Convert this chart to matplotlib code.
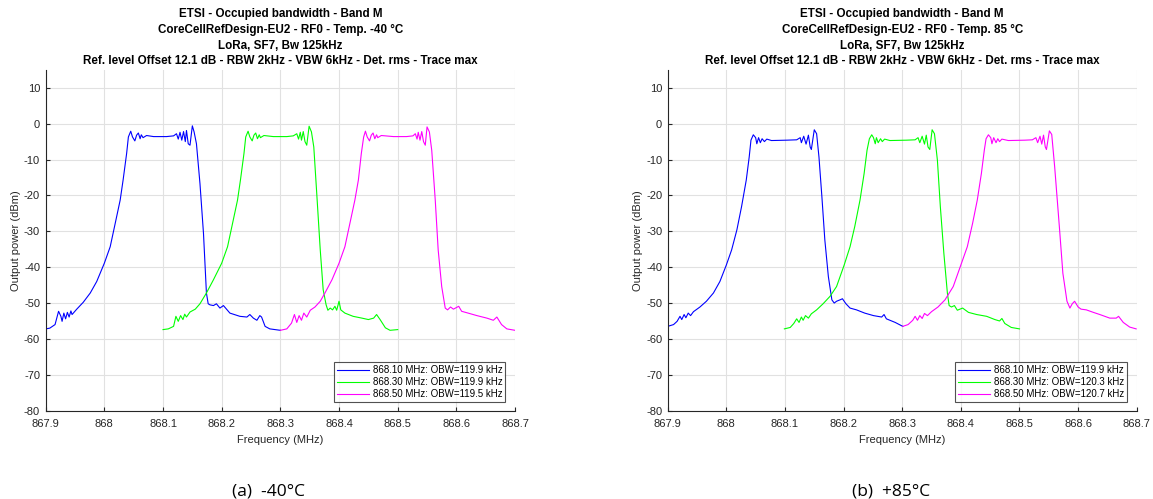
import matplotlib
matplotlib.use("Agg")
from matplotlib import pyplot as plt

plt.rcParams['font.family'] = ['Liberation Sans', 'DejaVu Sans']
plt.rcParams['axes.unicode_minus'] = False

# ---- -40 degC traces (MHz, dBm) ----
f_blue_cold = [867.900, 867.907, 867.916, 867.922, 867.926, 867.928, 867.931, 867.934, 867.937, 867.940,
               867.943, 867.945, 867.953, 867.964, 867.976, 867.987, 868.000, 868.010, 868.018, 868.027,
               868.032, 868.038, 868.041, 868.045, 868.048, 868.052, 868.055, 868.058, 868.061, 868.063,
               868.066, 868.072, 868.084, 868.106, 868.118, 868.123, 868.126, 868.129, 868.132, 868.135,
               868.138, 868.140, 868.143, 868.146, 868.150, 868.153, 868.157, 868.163, 868.169, 868.174,
               868.177, 868.180, 868.186, 868.191, 868.197, 868.203, 868.214, 868.231, 868.243, 868.248,
               868.254, 868.260, 868.265, 868.268, 868.274, 868.282, 868.300]
p_blue_cold = [-57.2, -57.0, -56.0, -52.3, -53.7, -55.1, -52.8, -54.4, -52.6, -53.9,
               -52.2, -53.2, -51.7, -49.8, -47.2, -44.0, -38.9, -34.3, -28.2, -21.3,
               -15.7, -8.3, -3.7, -2.1, -3.7, -4.8, -3.2, -2.6, -4.2, -3.1,
               -3.9, -3.3, -3.6, -3.6, -3.4, -2.8, -4.3, -2.4, -4.6, -2.2,
               -5.0, -1.9, -5.6, -6.0, -0.6, -2.3, -5.6, -16.7, -30.6, -47.2,
               -50.2, -50.5, -50.7, -50.2, -51.4, -50.7, -52.8, -53.7, -53.9, -53.2,
               -54.2, -54.8, -53.5, -53.9, -56.5, -57.2, -57.6]

f_green_cold = [868.100, 868.109, 868.118, 868.122, 868.126, 868.130, 868.134, 868.137, 868.140, 868.146,
                868.155, 868.163, 868.174, 868.186, 868.200, 868.210, 868.218, 868.227, 868.232, 868.238,
                868.241, 868.245, 868.248, 868.252, 868.255, 868.258, 868.261, 868.264, 868.266, 868.272,
                868.288, 868.311, 868.322, 868.328, 868.331, 868.334, 868.336, 868.339, 868.342, 868.345,
                868.349, 868.353, 868.357, 868.362, 868.368, 868.373, 868.378, 868.381, 868.385, 868.389,
                868.393, 868.396, 868.400, 868.403, 868.410, 868.424, 868.439, 868.450, 868.459, 868.464,
                868.470, 868.479, 868.487, 868.500]
p_green_cold = [-57.4, -57.2, -56.5, -53.7, -55.1, -53.5, -54.6, -53.1, -53.9, -52.5,
                -51.7, -50.2, -47.2, -43.5, -38.9, -34.3, -28.2, -21.3, -15.7, -8.3,
                -3.7, -2.1, -3.7, -4.8, -3.2, -2.6, -4.2, -3.1, -3.9, -3.3,
                -3.6, -3.6, -3.4, -2.8, -4.3, -2.4, -4.6, -2.2, -5.0, -6.0,
                -0.7, -2.3, -6.5, -19.4, -35.2, -46.3, -50.5, -52.0, -51.4, -51.9,
                -50.9, -52.0, -49.5, -51.9, -52.8, -53.7, -54.2, -54.6, -54.2, -53.2,
                -54.6, -56.9, -57.6, -57.4]

f_mag_cold = [868.300, 868.311, 868.319, 868.324, 868.328, 868.332, 868.336, 868.340, 868.345, 868.351,
              868.359, 868.368, 868.376, 868.388, 868.400, 868.410, 868.418, 868.427, 868.433, 868.438,
              868.442, 868.445, 868.448, 868.452, 868.455, 868.458, 868.461, 868.464, 868.466, 868.472,
              868.493, 868.515, 868.526, 868.530, 868.533, 868.535, 868.538, 868.541, 868.544, 868.547,
              868.550, 868.554, 868.558, 868.564, 868.569, 868.575, 868.581, 868.585, 868.590, 868.595,
              868.604, 868.609, 868.620, 868.635, 868.652, 868.663, 868.669, 868.677, 868.686, 868.700]
p_mag_cold = [-57.6, -57.2, -55.6, -53.2, -55.4, -53.5, -54.8, -52.8, -53.9, -52.0,
              -51.1, -49.5, -47.2, -43.5, -38.9, -34.3, -28.2, -21.3, -15.7, -8.3,
              -3.7, -2.1, -3.7, -4.8, -3.2, -2.6, -4.2, -3.1, -3.9, -3.3,
              -3.6, -3.6, -3.4, -2.8, -4.3, -2.4, -4.6, -2.2, -5.0, -6.0,
              -0.9, -2.3, -7.4, -21.3, -35.2, -45.4, -51.4, -51.9, -51.1, -51.7,
              -50.9, -52.3, -52.8, -53.5, -54.2, -54.8, -53.9, -56.0, -57.2, -57.6]

# ---- +85 degC traces (MHz, dBm) ----
f_blue_hot = [867.900, 867.910, 867.916, 867.921, 867.924, 867.928, 867.931, 867.935, 867.939, 867.944,
              867.955, 867.966, 867.978, 867.989, 868.000, 868.009, 868.018, 868.026, 868.034, 868.039,
              868.042, 868.046, 868.050, 868.052, 868.055, 868.058, 868.061, 868.065, 868.069, 868.077,
              868.103, 868.120, 868.126, 868.128, 868.132, 868.136, 868.140, 868.143, 868.145, 868.150,
              868.154, 868.158, 868.163, 868.168, 868.174, 868.180, 868.184, 868.188, 868.194, 868.198,
              868.204, 868.211, 868.222, 868.236, 868.251, 868.265, 868.269, 868.273, 868.288, 868.301]
p_blue_hot = [-56.5, -56.0, -55.1, -53.7, -54.6, -53.2, -54.1, -52.8, -53.5, -52.4,
              -51.1, -49.5, -47.2, -44.0, -39.4, -35.2, -29.6, -23.1, -15.7, -9.3,
              -4.6, -3.1, -3.9, -5.6, -3.9, -5.3, -4.2, -5.0, -4.3, -4.7,
              -4.6, -4.5, -3.9, -5.3, -3.5, -5.7, -3.2, -6.5, -7.2, -1.7,
              -2.8, -9.3, -20.4, -32.4, -42.6, -49.1, -50.0, -49.5, -49.1, -48.8,
              -50.2, -51.4, -51.9, -52.8, -53.5, -53.9, -53.2, -54.4, -55.4, -56.5]

f_green_hot = [868.099, 868.109, 868.115, 868.120, 868.124, 868.128, 868.131, 868.135, 868.140, 868.145,
               868.154, 868.165, 868.177, 868.188, 868.201, 868.211, 868.219, 868.228, 868.235, 868.240,
               868.244, 868.248, 868.251, 868.254, 868.256, 868.259, 868.263, 868.266, 868.270, 868.279,
               868.307, 868.322, 868.327, 868.330, 868.334, 868.338, 868.341, 868.344, 868.347, 868.351,
               868.355, 868.360, 868.365, 868.371, 868.377, 868.380, 868.384, 868.389, 868.394, 868.403,
               868.413, 868.427, 868.444, 868.458, 868.466, 868.470, 868.475, 868.486, 868.500]
p_green_hot = [-57.2, -56.8, -55.7, -54.4, -55.4, -53.9, -54.8, -53.5, -54.2, -53.0,
               -51.9, -50.2, -48.1, -45.4, -39.4, -34.3, -28.7, -21.3, -13.9, -7.4,
               -4.2, -3.1, -3.9, -5.6, -3.9, -5.3, -4.2, -5.0, -4.3, -4.7,
               -4.6, -4.5, -3.9, -5.3, -3.5, -5.7, -3.2, -6.5, -7.2, -1.7,
               -2.8, -10.2, -23.1, -36.1, -47.2, -50.7, -51.1, -50.7, -52.0, -51.4,
               -52.6, -53.2, -53.7, -54.6, -55.0, -54.3, -55.7, -56.8, -57.2]

f_mag_hot = [868.301, 868.310, 868.318, 868.322, 868.326, 868.330, 868.334, 868.338, 868.343, 868.350,
             868.361, 868.373, 868.387, 868.400, 868.411, 868.420, 868.428, 868.435, 868.440, 868.443,
             868.447, 868.451, 868.453, 868.456, 868.460, 868.463, 868.466, 868.470, 868.481, 868.509,
             868.522, 868.528, 868.531, 868.535, 868.538, 868.541, 868.544, 868.546, 868.551, 868.555,
             868.560, 868.568, 868.574, 868.581, 868.586, 868.590, 868.594, 868.600, 868.605, 868.614,
             868.626, 868.637, 868.654, 868.665, 868.669, 868.677, 868.688, 868.699]
p_mag_hot = [-56.5, -56.0, -54.8, -53.7, -54.8, -53.5, -54.3, -52.9, -53.5, -52.4,
             -51.1, -49.1, -45.4, -39.4, -34.3, -27.8, -21.3, -13.9, -7.4, -4.2,
             -3.1, -3.9, -5.6, -3.9, -5.3, -4.2, -5.0, -4.3, -4.7, -4.6,
             -4.5, -3.9, -5.3, -3.5, -5.7, -3.2, -6.5, -7.2, -2.0, -3.0,
             -12.0, -28.7, -41.7, -49.5, -51.4, -50.2, -49.5, -51.1, -51.7, -51.9,
             -52.6, -53.2, -54.2, -54.2, -53.7, -55.4, -56.7, -57.2]

labels_cold = ['868.10 MHz: OBW=119.9 kHz', '868.30 MHz: OBW=119.9 kHz', '868.50 MHz: OBW=119.5 kHz']
labels_hot = ['868.10 MHz: OBW=119.9 kHz', '868.30 MHz: OBW=120.3 kHz', '868.50 MHz: OBW=120.7 kHz']
temps = ['-40', '85']
captions = ['(a)  -40°C', '(b)  +85°C']

colors = ['#0000ff', '#00ff00', '#ff00ff']
xticks = [867.9, 868.0, 868.1, 868.2, 868.3, 868.4, 868.5, 868.6, 868.7]
xticklabels = ['867.9', '868', '868.1', '868.2', '868.3', '868.4', '868.5', '868.6', '868.7']
yticks = [-80, -70, -60, -50, -40, -30, -20, -10, 0, 10]


def draw(ax, traces, labels, temp):
  for (f, p), c, lab in zip(traces, colors, labels):
    ax.plot(f, p, color=c, lw=0.8, label=lab)
  ax.set_xlim(867.9, 868.7)
  ax.set_ylim(-80, 15)
  ax.set_xticks(xticks)
  ax.set_xticklabels(xticklabels)
  ax.set_yticks(yticks)
  ax.grid(True, color='#e1e1e1', lw=0.8)
  ax.set_axisbelow(True)
  for s in ['top', 'right']:
    ax.spines[s].set_visible(False)
  for s in ['left', 'bottom']:
    ax.spines[s].set_color('#262626')
    ax.spines[s].set_linewidth(0.8)
  ax.tick_params(direction='in', length=3, width=0.8, colors='#262626', labelsize=8)
  ax.tick_params(axis='x', pad=6)
  ax.tick_params(axis='y', pad=4)
  ax.set_xlabel('Frequency (MHz)', fontsize=8, color='#262626', labelpad=4)
  ax.set_ylabel('Output power (dBm)', fontsize=8, color='#262626', labelpad=2)
  ax.set_title('ETSI - Occupied bandwidth - Band M\n'
               'CoreCellRefDesign-EU2 - RF0 - Temp. ' + temp + ' °C\n'
               'LoRa, SF7, Bw 125kHz\n'
               'Ref. level Offset 12.1 dB - RBW 2kHz - VBW 6kHz - Det. rms - Trace max',
               fontsize=8.4, fontweight='bold', linespacing=1.4, pad=4)
  leg = ax.legend(loc='lower right', bbox_to_anchor=(0.979, 0.025), fontsize=7, frameon=True,
                  fancybox=False, edgecolor='#262626', handlelength=3.3, handletextpad=0.4,
                  borderpad=0.3, labelspacing=0.2, borderaxespad=0)
  leg.get_frame().set_linewidth(0.8)


fig = plt.figure(figsize=(11.53, 4.99), dpi=100)
ax1 = fig.add_axes([0.0396, 0.177, 0.4071, 0.683])
ax2 = fig.add_axes([0.5791, 0.177, 0.4068, 0.683])

draw(ax1, [(f_blue_cold, p_blue_cold), (f_green_cold, p_green_cold), (f_mag_cold, p_mag_cold)],
     labels_cold, temps[0])
draw(ax2, [(f_blue_hot, p_blue_hot), (f_green_hot, p_green_hot), (f_mag_hot, p_mag_hot)],
     labels_hot, temps[1])

fig.text(269 / 1153, 1 - 491 / 499, captions[0], fontsize=12.5, family='Open Sans', ha='center', va='center')
fig.text(891 / 1153, 1 - 491 / 499, captions[1], fontsize=12.5, family='Open Sans', ha='center', va='center')

fig.savefig('out.png', dpi=100)
